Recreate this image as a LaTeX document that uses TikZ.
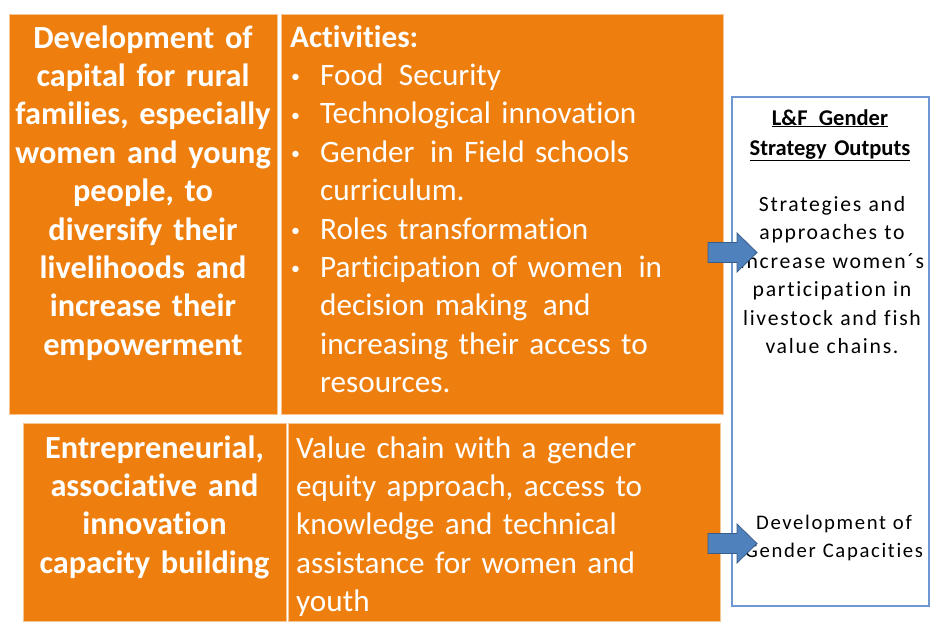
\documentclass[tikz,border=0pt]{standalone}
\usepackage{fontspec}
\setmainfont[Ligatures=NoCommon]{Carlito}
\newfontfamily\outfont[Ligatures=NoCommon,LetterSpace=8]{Carlito}
\definecolor{boxorange}{RGB}{238,127,14}
\definecolor{edgeorange}{RGB}{247,196,150}
\definecolor{outblue}{RGB}{110,150,210}
\definecolor{arrowfill}{RGB}{79,129,189}
\definecolor{arrowedge}{RGB}{56,93,138}
\newcommand{\bul}{\makebox[30pt][l]{\hspace{1pt}\raisebox{2.5pt}{\fontsize{18}{18}\selectfont\textbullet}}}
\newcommand{\cont}{\hspace*{30pt}}
\begin{document}
\begin{tikzpicture}[x=1pt,y=-1pt,
  obox/.style={draw=edgeorange, fill=boxorange, line width=0.8pt,
    anchor=north west, inner sep=0pt, outer sep=0pt},
  outbox/.style={draw=outblue, fill=white, line width=1.3pt,
    anchor=north west, inner sep=0pt, outer sep=0pt},
  headtxt/.style={text=white, inner sep=0pt, anchor=base, align=center,
    font=\fontsize{32.3}{38.4}\selectfont\bfseries},
  bodytxt/.style={text=white, inner sep=0pt, anchor=base west, align=left,
    font=\fontsize{31.2}{38.4}\selectfont},
  outtxt/.style={text=black, inner sep=0pt, anchor=base, align=center,
    text width=196pt},
  blockarrow/.style={fill=arrowfill, draw=arrowedge, line width=0.8pt, line join=miter}]
\useasboundingbox (0,0) rectangle (931,629);

% orange boxes
\node[obox, minimum width=268.5pt, minimum height=400pt] (capL) at (9,14) {};
\node[obox, minimum width=442pt, minimum height=400pt] (capR) at (281,14) {};
\node[obox, minimum width=263pt, minimum height=198pt] (entL) at (23,423) {};
\node[obox, minimum width=432pt, minimum height=198pt] (entR) at (288,423) {};

% outputs box
\node[outbox, minimum width=197pt, minimum height=509pt] (outs) at (732,97) {};

% texts of the orange boxes
\node[headtxt, text width=268pt] (capLt) at (143,48)
  {Development of\\capital for rural\\families, especially\\women and young\\people, to\\diversify their\\livelihoods and\\increase their\\empowerment};
\node[bodytxt, text width=430pt] (capRt) at (290,47)
  {{\bfseries Activities:}\\
   \bul Food\, Security\\
   \bul Technological innovation\\
   \bul Gender\, in Field schools\\
   \cont curriculum.\\
   \bul Roles transformation\\
   \bul Participation of women\, in\\
   \cont decision making\, and\\
   \cont increasing their access to\\
   \cont resources.};
\node[headtxt, text width=263pt] (entLt) at (154.5,458)
  {Entrepreneurial,\\associative and\\innovation\\capacity building};
\node[bodytxt, text width=420pt] (entRt) at (296,458)
  {Value chain with a gender\\equity approach, access to\\knowledge and technical\\assistance for women and\\youth};

% texts of the outputs box
\node[outtxt, font=\fontsize{22.5}{30}\selectfont\bfseries] (outh) at (830,125)
  {\underline{L\&F\, Gender}\\\underline{Strategy Outputs}};
\node[outtxt, font=\outfont\fontsize{21.7}{28.5}\selectfont] (outa) at (832,211)
  {Strategies and\\approaches to\\increase women´s\\participation in\\livestock and fish\\value chains.};
\node[outtxt, font=\outfont\fontsize{20.7}{28}\selectfont] (outb) at (834,529)
  {Development of\\Gender Capacities};

% block arrows into the outputs box
\coordinate (a1) at (708,252.5);
\coordinate (a2) at (708,543.5);
\foreach \a in {a1,a2}
  \draw[blockarrow] (\a) ++(0,-10) -- ++(29,0) -- ++(0,-9.5) -- ++(20,19.5)
    -- ++(-20,19.5) -- ++(0,-9.5) -- ++(-29,0) -- cycle;
\end{tikzpicture}
\end{document}
